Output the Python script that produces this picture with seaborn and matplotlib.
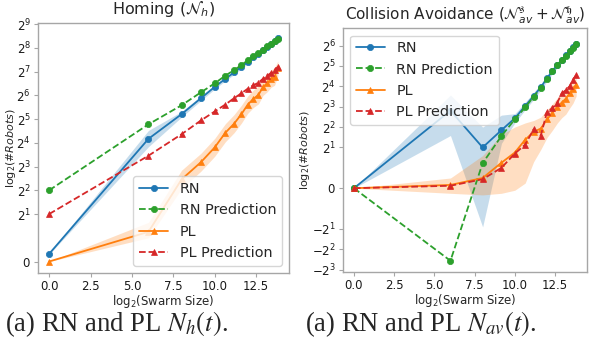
import numpy as np
import pandas as pd
import seaborn as sns
import matplotlib.pyplot as plt

# swarm sizes (x axis is log2 of these)
sizes = [1, 64, 256, 576, 1024, 1600, 2304, 3136, 4096, 5184, 6400, 7744, 9216, 10816, 12544, 14400]
log_size = np.log2(sizes)

# Homing
h_rn = [0.32, 18, 37, 59, 82, 104, 125, 147, 171, 195, 216, 240, 265, 290, 315, 342]
h_rn_lo = [0.3, 14.3, 34, 55, 77, 98, 118, 139, 162, 185, 205, 228, 252, 276, 300, 325]
h_rn_hi = [0.35, 23, 40, 63, 87, 110, 132, 155, 180, 205, 227, 252, 278, 304, 330, 360]
h_rn_pred = [4, 27.5, 48, 70, 91, 114, 134, 155, 179, 201, 221, 244, 269, 290, 313, 335]
h_pl = [0, 1.25, 5.5, 9.1, 14, 21.5, 28, 37, 49, 58, 65, 82, 91, 104, 110, 142]
h_pl_lo = [0, 1.0, 4.2, 7.0, 10.8, 16.5, 21.5, 28.5, 38, 45, 50, 64, 71, 81, 86, 112]
h_pl_hi = [0, 1.65, 7.2, 11.8, 18.2, 28, 36.5, 48, 63, 75, 84, 106, 118, 135, 142, 175]
h_pl_pred = [2, 11, 20.6, 30.8, 40, 49, 59, 68, 78, 86, 93, 104, 114, 123, 134, 147]

# Collision avoidance
c_rn = [0, 7, 2.0, 3.6, 5.4, 8.2, 11.5, 15.5, 21, 27, 33, 39, 46, 53, 60, 67]
c_rn_lo = [0, 3.0, -1.9, 2.3, 4.6, 7.2, 10.2, 14, 19, 24.5, 30, 35.5, 41.5, 47.5, 53.5, 59]
c_rn_hi = [0, 11.9, 4.0, 6.0, 6.3, 9.3, 13, 17.2, 23.2, 29.8, 36.5, 43, 51, 59, 67, 76]
c_rn_pred = [0, -5.9, 1.23, 2.95, 5.2, 7.8, 11.2, 15.2, 20.5, 26.5, 32.5, 38.5, 45.5, 52.5, 59.5, 66.5]
c_pl = [0, 0.16, 0.5, 1.25, 1.75, 2.6, 3.4, 3.8, 5.2, 6.5, 8.0, 9.2, 10.5, 12.6, 14.5, 17]
c_pl_lo = [0, -0.25, -0.33, -0.25, -0.1, 0.25, 1.3, 1.9, 2.8, 3.6, 4.6, 5.5, 6.2, 7.6, 9.0, 11.5]
c_pl_hi = [0, 0.5, 1.6, 3.1, 4.0, 4.6, 5.0, 5.6, 7.2, 8.8, 10.8, 12.5, 14, 17, 19.5, 22]
c_pl_pred = [0, 0.12, 0.44, 1.0, 1.7, 2.2, 3.7, 3.0, 6.7, 7.6, 9.2, 12.6, 14, 16, 20, 23.5]

sns.set_style("ticks", {"axes.edgecolor": "0.65", "xtick.color": "0.65", "ytick.color": "0.65"})
plt.rcParams["font.family"] = ["DejaVu Sans"]
plt.rcParams["axes.linewidth"] = 1.0
plt.rcParams["xtick.labelcolor"] = "0.1"
plt.rcParams["ytick.labelcolor"] = "0.1"


def band_frame(lo, mid, hi):
    # three rows per x; median = mid, 100% interval = lo..hi
    return pd.DataFrame({"x": np.tile(log_size, 3),
                         "y": np.concatenate([lo, mid, hi])})


def draw(ax, rn, rn_lo, rn_hi, rn_pred, pl, pl_lo, pl_hi, pl_pred):
    band = dict(estimator="median", errorbar=("pi", 100), err_kws={"alpha": 0.25, "linewidth": 0})
    mk = dict(markersize=4.5, linewidth=1.3, mew=0.5)
    sns.lineplot(data=band_frame(rn_lo, rn, rn_hi), x="x", y="y", ax=ax, color="C0",
                 marker="o", mec="C0", label="RN", **band, **mk)
    sns.lineplot(x=log_size, y=rn_pred, ax=ax, color="C2", marker="o", mec="C2",
                 linestyle="--", label="RN Prediction", **mk)
    sns.lineplot(data=band_frame(pl_lo, pl, pl_hi), x="x", y="y", ax=ax, color="C1",
                 marker="^", mec="C1", label="PL", **band, **mk)
    sns.lineplot(x=log_size, y=pl_pred, ax=ax, color="C3", marker="^", mec="C3",
                 linestyle="--", label="PL Prediction", **mk)
    ax.set_yscale("symlog", base=2)
    ax.set_xlim(-0.69, 14.5)
    ax.set_xticks(np.arange(0, 13, 2.5))
    ax.set_xlabel(r"log$_2$(Swarm Size)", fontsize=8.5, labelpad=0)
    ax.set_ylabel(r"log$_2$(#$Robots$)", fontsize=8)
    ax.tick_params(labelsize=8.5, length=3, pad=2)


fig = plt.figure(figsize=(5.89, 3.45), dpi=100)
ax1 = fig.add_axes([0.064, 0.209, 0.427, 0.725])
ax2 = fig.add_axes([0.582, 0.212, 0.415, 0.706])

draw(ax1, h_rn, h_rn_lo, h_rn_hi, h_rn_pred, h_pl, h_pl_lo, h_pl_hi, h_pl_pred)
ax1.set_ylim(-0.48, 534)
ax1.set_title(r"Homing ($\mathcal{N}_h$)", fontsize=11.5)
ax1.legend(loc="lower right", fontsize=10.4)
ax1.yaxis.set_label_coords(-0.08, 0.5)

draw(ax2, c_rn, c_rn_lo, c_rn_hi, c_rn_pred, c_pl, c_pl_lo, c_pl_hi, c_pl_pred)
ax2.set_ylim(-8.6, 115)
ax2.set_title(r"Collision Avoidance ($\mathcal{N}^{\mathfrak{s}}_{av} + \mathcal{N}^{\mathfrak{h}}_{av}$)",
              fontsize=11)
ax2.legend(loc="upper left", fontsize=10.4)
ax2.yaxis.set_label_coords(-0.125, 0.5)

fig.text(0.008, 0.040, r"(a) RN and PL $N_h(t)$.", fontsize=19.2,
         family="Liberation Serif", math_fontfamily="stix")
fig.text(305 / 589, 0.040, r"(a) RN and PL $N_{av}(t)$.", fontsize=19.2,
         family="Liberation Serif", math_fontfamily="stix")

fig.savefig("out.png", dpi=100)
